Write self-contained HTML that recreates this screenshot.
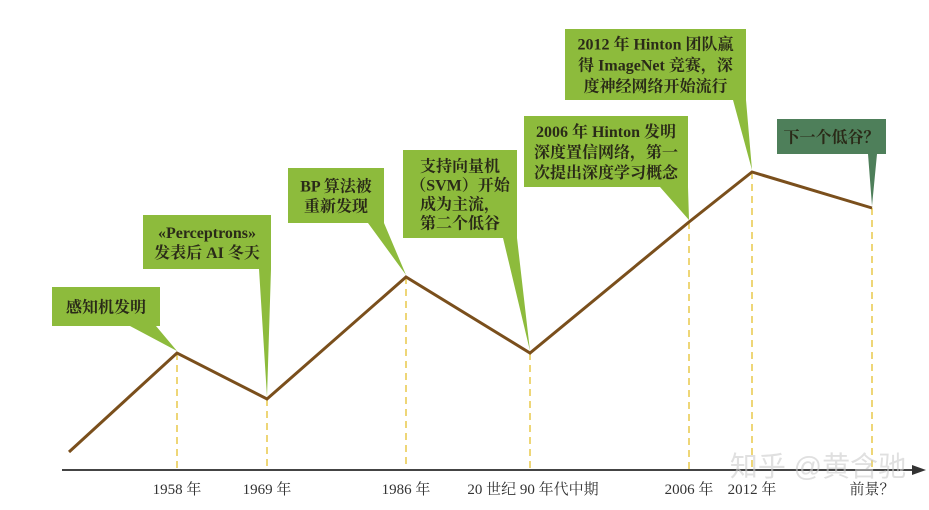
<!DOCTYPE html>
<html><head><meta charset="utf-8"><style>
html,body{margin:0;padding:0;background:#fff;}
svg{display:block;}
.box text{font-family:"Liberation Serif","Noto Serif CJK SC","Noto Sans CJK SC",serif;font-weight:bold;font-size:16px;fill:#2a2a18;}
.tick{font-family:"Liberation Serif","Noto Serif CJK SC",serif;font-size:15px;fill:#333;text-anchor:middle;}
</style></head><body>
<svg id="chart" width="929" height="510" viewBox="0 0 929 510">
<g id="guides"></g>
<line x1="62" y1="470" x2="915" y2="470" stroke="#444" stroke-width="2"/>
<polygon points="926,470 912,465 912,475" fill="#333"/>
<g id="ticks"></g>
<polyline id="trend" fill="none" stroke="#7a4f1c" stroke-width="3"/>
<g id="boxes"></g>
<text x="818" y="476" font-family="Liberation Sans,'Noto Sans CJK SC',sans-serif" font-size="28" fill="#ccc" fill-opacity="0.6" text-anchor="middle">知乎 @黄含驰</text>
</svg>
<script>
// timeline positions (ordinal units along the axis) and trend height values
const timeline = [0, 108, 198, 337, 461, 620, 683, 803];
const heights = [18, 117, 71, 193, 117, 248, 298, 262];
const tickLabels = ["", "1958 年", "1969 年", "1986 年", "20 世纪 90 年代中期", "2006 年", "2012 年", "前景？"];
const xs = v => 69 + v;
const ys = v => 470 - v;
const NS = "http://www.w3.org/2000/svg";
const guides = document.getElementById('guides'), ticks = document.getElementById('ticks');
document.getElementById('trend').setAttribute('points', timeline.map((t,i)=>xs(t)+','+ys(heights[i])).join(' '));
for (let i=1;i<timeline.length;i++){
  const l=document.createElementNS(NS,'line');
  l.setAttribute('x1',xs(timeline[i]));l.setAttribute('x2',xs(timeline[i]));
  l.setAttribute('y1',ys(heights[i]));l.setAttribute('y2',470);
  l.setAttribute('stroke','#e8c84a');l.setAttribute('stroke-width','1.5');l.setAttribute('stroke-dasharray','7,5');
  
  
  guides.appendChild(l);
  const t=document.createElementNS(NS,'text');
  t.setAttribute('x',xs(timeline[i])+(i==4?3:0));t.setAttribute('y',494);t.setAttribute('class','tick');
  t.textContent=tickLabels[i];
  
  
  ticks.appendChild(t);
}
const callouts = [
 [52,287,108,39,130,156,1,"#8dbb3c",["感知机发明"],"callout-perceptron",20],
 [143,215,128,54,259,271,2,"#8dbb3c",["«Perceptrons»","发表后 AI 冬天"],"callout-ai-winter",20],
 [288,168,96,55,368,384,3,"#8dbb3c",["BP 算法被","重新发现"],"callout-bp",20],
 [403,150,114,88,503,517,4,"#8dbb3c",["支持向量机","（SVM）开始","成为主流，","第二个低谷"],"callout-svm",19],
 [524,116,164,71,660,688,5,"#8dbb3c",["2006 年 Hinton 发明","深度置信网络，第一","次提出深度学习概念"],"callout-dbn",20.5],
 [565,29,181,71,733,746,6,"#8dbb3c",["2012 年 Hinton 团队赢","得 ImageNet 竞赛，深","度神经网络开始流行"],"callout-imagenet",21],
 [777,119,109,35,868,877,7,"#4e7f5a",["下一个低谷？"],"callout-next-winter",20]
];
const boxes=document.getElementById('boxes');
callouts.forEach(c=>{
  const [x,y,w,h,tl,tr,pi,col,lines,name,lh]=c;
  const g=document.createElementNS(NS,'g');g.setAttribute('class','box');
  
  
  const px=xs(timeline[pi]), py=ys(heights[pi]);
  const p=document.createElementNS(NS,'polygon');
  p.setAttribute('points',`${x},${y} ${x+w},${y} ${x+w},${y+h} ${tr},${y+h} ${px},${py-2} ${tl},${y+h} ${x},${y+h}`);
  p.setAttribute('fill',col);
  g.appendChild(p);
  const start=y+h/2-(lines.length-1)*lh/2+6;
  lines.forEach((s,k)=>{
    const t=document.createElementNS(NS,'text');
    t.setAttribute('x',x+w/2);t.setAttribute('y',start+k*lh);t.setAttribute('text-anchor','middle');
    t.textContent=s;
    g.appendChild(t);
  });
  boxes.appendChild(g);
});
</script>
</body></html>
